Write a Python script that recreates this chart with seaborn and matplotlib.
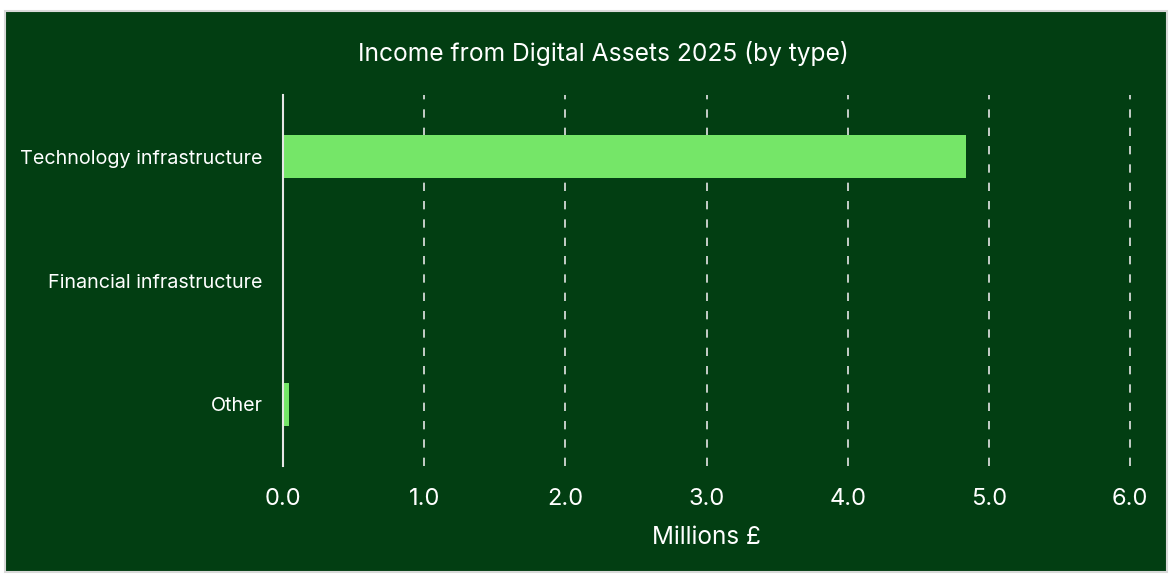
import matplotlib
matplotlib.use("Agg")
import matplotlib.pyplot as plt
import seaborn as sns
import pandas as pd
from matplotlib.patches import Rectangle

categories = ["Technology infrastructure", "Financial infrastructure", "Other"]
values = [4.84, 0.0, 0.04]
xticks = [0.0, 1.0, 2.0, 3.0, 4.0, 5.0, 6.0]
xtick_labels = ["0.0", "1.0", "2.0", "3.0", "4.0", "5.0", "6.0"]
title = "Income from Digital Assets 2025 (by type)"
xlabel = "Millions £"

BG = "#023e12"
BAR = "#75e668"
FG = "#ffffff"

sns.set_theme(style="white")
plt.rcParams["font.family"] = ["Inter", "DejaVu Sans"]

df = pd.DataFrame({"category": categories, "value": values})

fig = plt.figure(figsize=(11.69, 5.74), dpi=100)
fig.patch.set_facecolor("white")
bg = Rectangle((5 / 1169, 2 / 574), 1162 / 1169, 561 / 574,
               transform=fig.transFigure, facecolor=BG,
               edgecolor="#d9d9d9", linewidth=1.5, zorder=-10)
fig.patches.append(bg)

ax = fig.add_axes([283 / 1169, 1 - 466 / 574, (1130 - 283) / 1169, (466 - 95) / 574])
ax.set_zorder(5)
ax.set_facecolor("none")
sns.barplot(data=df, x="value", y="category", orient="h", color=BAR,
            saturation=1, width=0.35, ax=ax, zorder=3, linewidth=0)

ax.set_xlim(0, 6.0)
ax.set_ylim(2.5, -0.5)
ax.set_xticks(xticks)
ax.set_xticklabels(xtick_labels)
for x in xticks[1:]:
    ax.axvline(x, color="#e6e6e6", linestyle=(0, (5, 6)), linewidth=1.2,
               zorder=1, clip_on=False)

for s in ["top", "right", "bottom"]:
    ax.spines[s].set_visible(False)
ax.spines["left"].set_color("#e6e6e6")
ax.spines["left"].set_linewidth(1.5)
ax.spines["left"].set_zorder(4)

ax.tick_params(axis="x", colors=FG, labelsize=17, length=0, pad=16)
ax.tick_params(axis="y", colors=FG, labelsize=14.2, length=0, pad=14.5)
ax.set_ylabel("")
ax.set_xlabel(xlabel, color=FG, fontsize=17.5, labelpad=11)

fig.text(603 / 1169, 1 - 54 / 574, title, color=FG, fontsize=17.7,
         ha="center", va="center", zorder=6)

fig.savefig("out.png", dpi=100, facecolor=fig.get_facecolor())
